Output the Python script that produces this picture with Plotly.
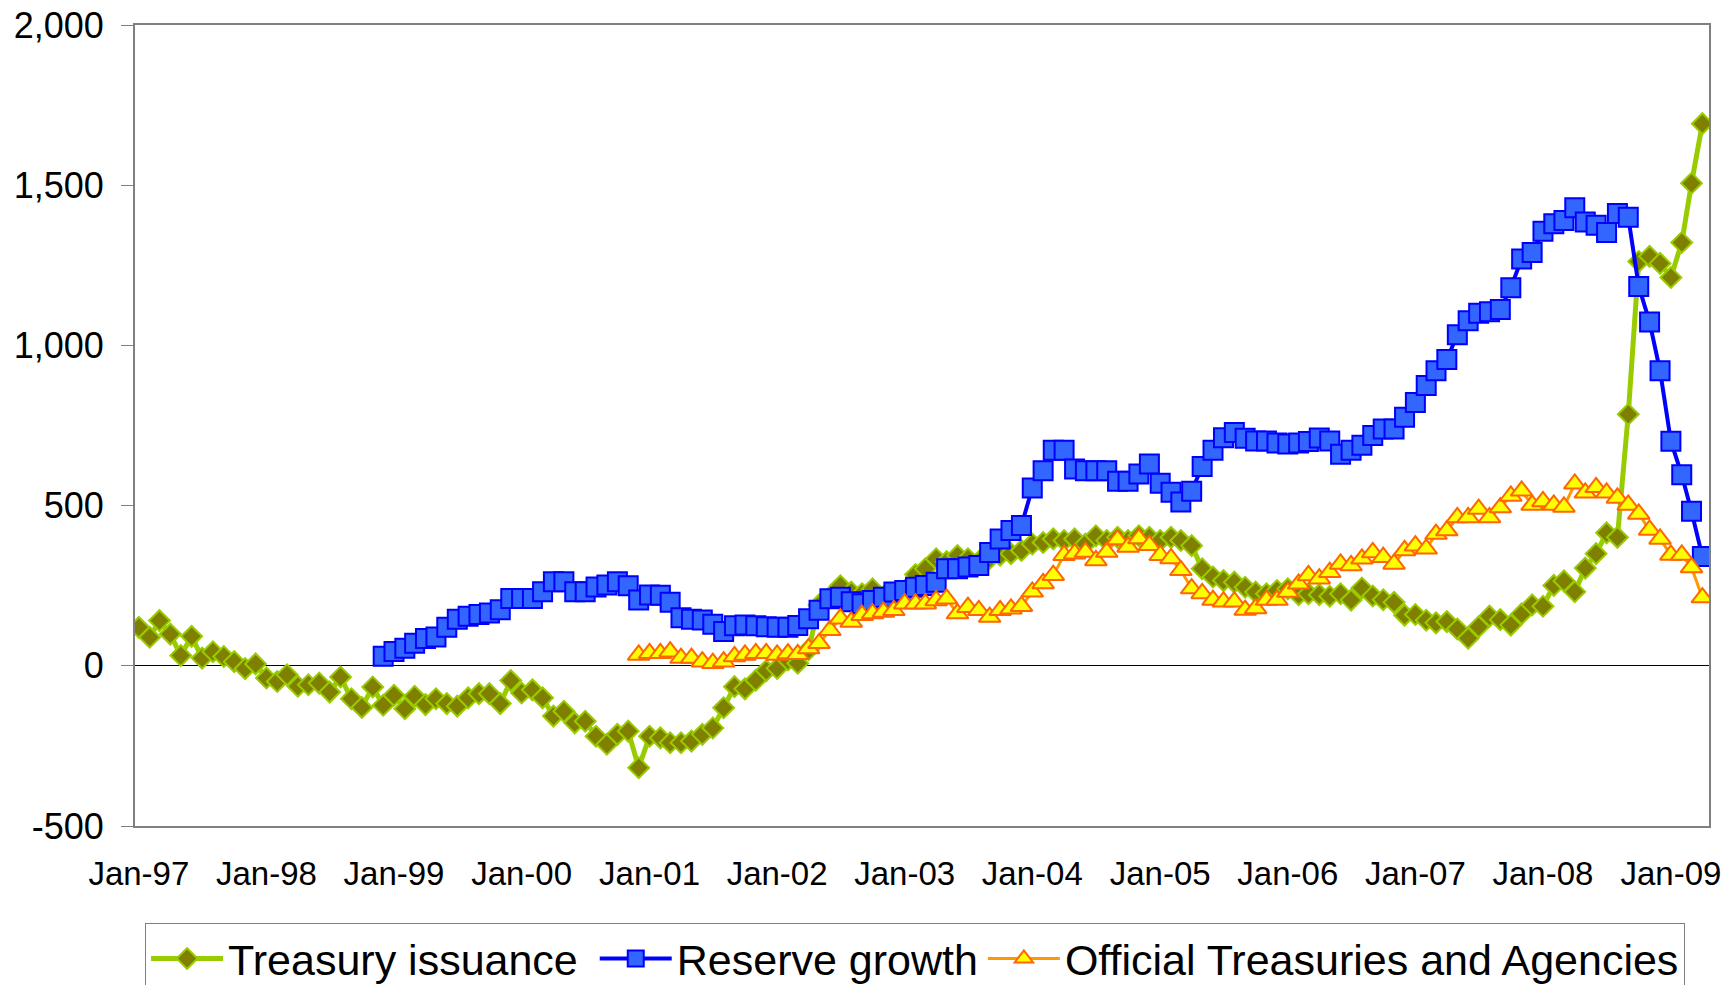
import plotly.graph_objects as go
import pandas as pd

# Monthly values, Jan-97 .. Apr-09
treasury = [
    120, 89, 141, 99, 32, 92, 24, 44, 29, 13, -9, 6,
    -38, -49, -28, -64, -59, -54, -82, -35, -103, -130, -66, -123,
    -92, -134, -95, -121, -103, -118, -126, -100, -87, -87, -118, -46,
    -85, -75, -100, -157, -142, -178, -173, -220, -245, -214, -204, -318,
    -220, -225, -240, -240, -235, -214, -194, -131, -65, -72, -45, -15,
    -8, 18, 8, 50, 190, 215, 250, 230, 225, 240, 215, 222,
    235, 285, 303, 334, 325, 344, 334, 325, 335, 345, 350, 360,
    380, 385, 396, 391, 396, 380, 406, 391, 401, 391, 406, 401,
    391, 401, 391, 375, 303, 277, 266, 261, 245, 230, 225, 235,
    240, 222, 225, 222, 217, 225, 205, 243, 218, 206, 198, 158,
    160, 142, 134, 138, 115, 86, 122, 155, 144, 127, 162, 190,
    186, 251, 265, 231, 305, 350, 415, 401, 785, 1262, 1278, 1256,
    1212, 1321, 1506, 1692,
]

# Dec-98 .. Apr-09
reserve = [
    30,
    45, 55, 70, 85, 90, 120, 145, 155, 160, 165, 175, 210,
    210, 210, 231, 262, 262, 231, 231, 246, 252, 262, 250, 205,
    221, 220, 198, 150, 145, 143, 130, 107, 125, 127, 125, 122,
    120, 120, 126, 147, 173, 209, 214, 200, 194, 204, 214, 230,
    235, 245, 251, 261, 303, 303, 308, 313, 354, 396, 422, 438,
    555, 609, 673, 673, 614, 609, 609, 609, 576, 576, 599, 630,
    570, 542, 511, 545, 622, 673, 712, 728, 710, 702, 702, 695,
    692, 695, 700, 711, 702, 660, 673, 688, 719, 739, 739, 776,
    822, 875, 921, 956, 1033, 1077, 1100, 1105, 1112, 1180, 1270, 1290,
    1356, 1380, 1390, 1430, 1385, 1375, 1352, 1412, 1400, 1184, 1073, 921,
    701, 596, 482, 341,
]

# Dec-00 .. Apr-09
official = [
    34,
    39, 39, 44, 24, 24, 13, 8, 13, 29, 34, 39, 39,
    34, 38, 36, 54, 70, 111, 147, 137, 158, 163, 168, 173,
    194, 194, 194, 204, 209, 163, 183, 173, 152, 173, 178, 186,
    231, 257, 283, 345, 350, 355, 329, 355, 394, 371, 397, 376,
    345, 335, 298, 241, 226, 205, 200, 200, 174, 179, 205, 205,
    230, 256, 282, 272, 292, 318, 313, 334, 354, 339, 318, 360,
    375, 365, 411, 422, 463, 463, 489, 463, 494, 530, 546, 502,
    513, 502, 496, 568, 540, 557, 540, 524, 502, 474, 424, 396,
    346, 346, 307, 213,
]

series_names = ["Treasury issuance", "Reserve growth", "Official Treasuries and Agencies"]
x_tick_labels = ["Jan-97", "Jan-98", "Jan-99", "Jan-00", "Jan-01", "Jan-02", "Jan-03",
                 "Jan-04", "Jan-05", "Jan-06", "Jan-07", "Jan-08", "Jan-09"]
y_tick_values = [-500, 0, 500, 1000, 1500, 2000]
y_tick_labels = ["-500", "0", "500", "1,000", "1,500", "2,000"]

months = pd.date_range("1997-01-01", periods=len(treasury), freq="MS") + pd.Timedelta(days=11)
reserve_months = months[len(treasury) - len(reserve):]
official_months = months[len(treasury) - len(official):]
year_starts = pd.date_range("1997-01-01", periods=len(x_tick_labels), freq="YS")
label_pos = year_starts + pd.Timedelta(days=11)
x_range = ["1997-01-01", "2009-05-01"]

FONT = "Liberation Sans, Arial, sans-serif"
PAD = "\u00a0"  # a little breathing room after the first legend entry

fig = go.Figure()
fig.add_trace(go.Scatter(
    x=months, y=treasury, name=series_names[0] + PAD, mode="lines+markers",
    line=dict(color="#99CC00", width=5),
    marker=dict(symbol="diamond", size=16, color="#808000",
                line=dict(color="#99CC00", width=2)),
))
fig.add_trace(go.Scatter(
    x=reserve_months, y=reserve, name=series_names[1], mode="lines+markers",
    line=dict(color="#0000FF", width=4),
    marker=dict(symbol="square", size=19, color="#3366FF",
                line=dict(color="#0000FF", width=2)),
))
fig.add_trace(go.Scatter(
    x=official_months, y=official, name=series_names[2],
    mode="lines+markers",
    line=dict(color="#FF9900", width=3),
    marker=dict(symbol="triangle-up", size=19, color="#FFFF00",
                line=dict(color="#FF6600", width=2)),
))

fig.update_layout(
    width=1731, height=985,
    margin=dict(l=135, r=22, t=25, b=159),
    paper_bgcolor="white", plot_bgcolor="white",
    font=dict(family=FONT, color="black", size=33),
    showlegend=True,
    legend=dict(
        orientation="h", xref="paper", yref="container",
        x=0.0064, y=0.0629, xanchor="left", yanchor="top",
        font=dict(family=FONT, size=43, color="black"),
        bgcolor="white", bordercolor="#808080", borderwidth=1,
        itemwidth=72, tracegroupgap=0,
    ),
    xaxis=dict(
        type="date", range=x_range, automargin=False,
        tickvals=label_pos, ticktext=x_tick_labels,
        ticks="", showgrid=False, zeroline=False,
        showline=True, linecolor="#808080", linewidth=2, mirror=True,
        tickfont=dict(size=33), ticklabelstandoff=17,
    ),
    xaxis2=dict(
        type="date", range=x_range, overlaying="x", anchor="free", position=0.2,
        automargin=False,
        tickvals=year_starts, ticks="outside", ticklen=11, tickwidth=1,
        tickcolor="#404040", showticklabels=False, showgrid=False,
        showline=False, zeroline=False,
    ),
    yaxis=dict(
        range=[-500, 2000], tickvals=y_tick_values, ticktext=y_tick_labels,
        automargin=False,
        ticks="outside", ticklen=12, tickcolor="#808080", tickwidth=1,
        showgrid=False, zeroline=True, zerolinecolor="black", zerolinewidth=1,
        showline=True, linecolor="#808080", linewidth=2, mirror=True,
        tickfont=dict(size=36), ticklabelstandoff=10,
    ),
)

fig.write_html("out.html")
